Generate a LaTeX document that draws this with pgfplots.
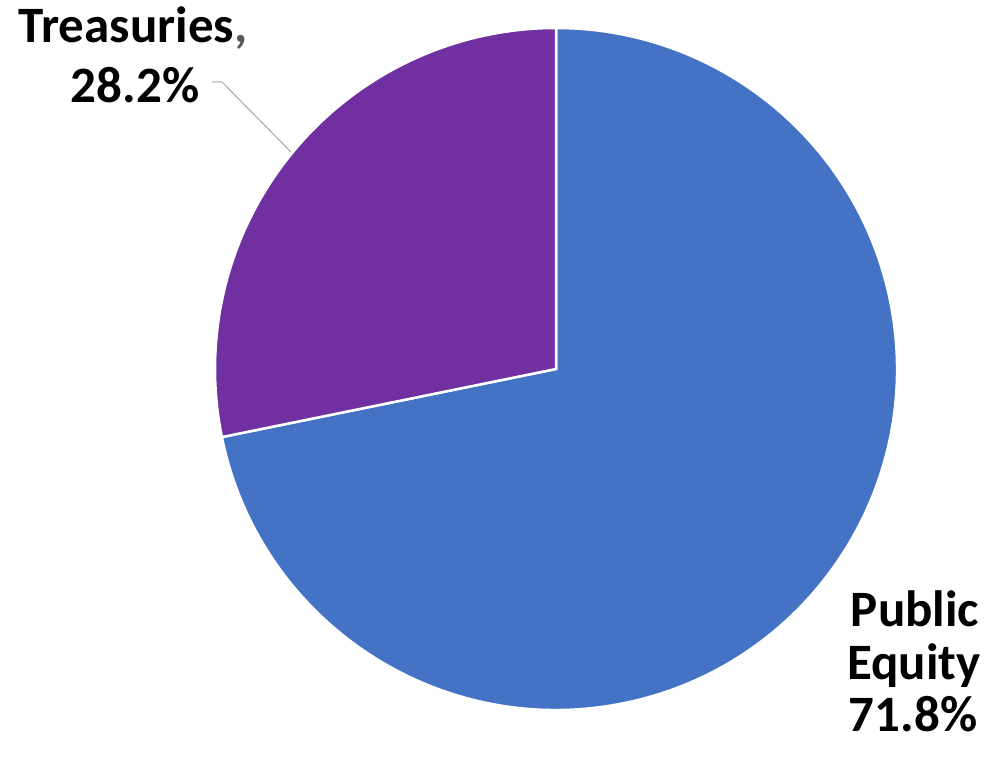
\documentclass[border=0pt]{standalone}
\usepackage{pgfplots}
\pgfplotsset{compat=1.18}
\usepackage{fontspec}
\setmainfont{Carlito}
\definecolor{pblue}{HTML}{4472C4}
\definecolor{ppurple}{HTML}{7030A0}
\definecolor{lgray}{HTML}{A6A6A6}
\definecolor{dgray}{HTML}{595959}
\begin{document}
\begin{tikzpicture}
\begin{axis}[hide axis, scale only axis, width=988bp, height=768bp,
  xmin=0, xmax=988, ymin=0, ymax=768, clip=false]
\path (axis cs:0,0) rectangle (axis cs:988,768);
% data: Treasuries 28.2, Public Equity 71.8 (percent); start at 90 deg, counterclockwise
\def\cx{556}\def\cy{399}\def\r{341}
\pgfmathsetmacro{\aT}{90+28.2*3.6}
\pgfmathsetmacro{\aP}{\aT+71.8*3.6}
\fill[pblue, draw=white, line width=2.5bp] (axis cs:\cx,\cy) -- (axis cs:{\cx+\r*cos(\aT)},{\cy+\r*sin(\aT)}) arc[start angle=\aT, end angle=\aP, radius=341bp] -- cycle;
\fill[ppurple, draw=white, line width=2.5bp] (axis cs:\cx,\cy) -- (axis cs:\cx,{\cy+\r}) arc[start angle=90, end angle=\aT, radius=341bp] -- cycle;
\draw[lgray, line width=1bp] (axis cs:212,686) -- (axis cs:222,686) -- (axis cs:291,616);
\begin{scope}[font=\fontsize{51bp}{56bp}\selectfont\bfseries]
\node[anchor=base, inner sep=0pt] at (axis cs:133,725) {Treasuries\textcolor{dgray}{,}};
\node[anchor=base, inner sep=0pt] at (axis cs:135,665) {28.2\%};
\node[anchor=base, inner sep=0pt] at (axis cs:915,141) {Public};
\node[anchor=base, inner sep=0pt] at (axis cs:914,88) {Equity};
\node[anchor=base, inner sep=0pt] at (axis cs:913,36) {71.8\%};
\end{scope}
\end{axis}
\end{tikzpicture}
\end{document}
